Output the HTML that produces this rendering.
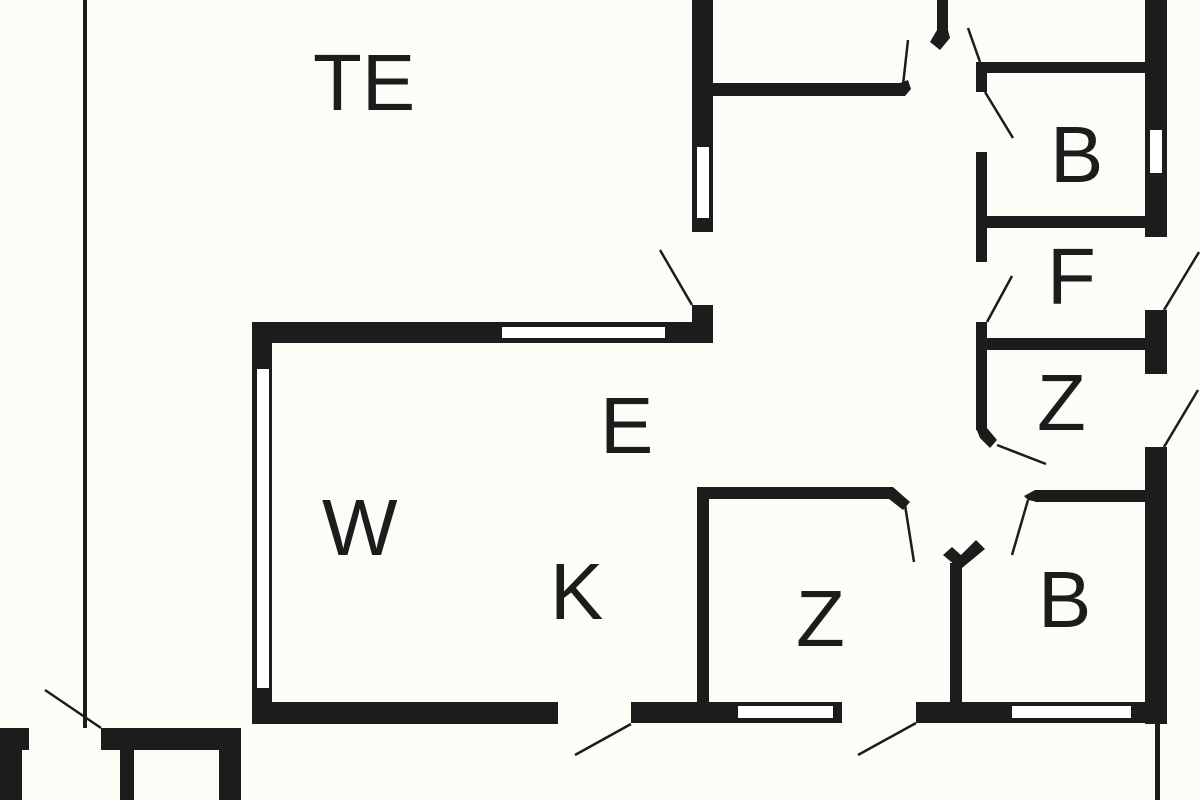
<!DOCTYPE html>
<html><head><meta charset="utf-8"><style>
html,body{margin:0;padding:0;background:#fcfdf7;}
svg{display:block;}
text{font-family:"Liberation Sans",sans-serif;font-size:80px;fill:#1c1c1c;}
</style></head><body>
<svg width="1200" height="800" viewBox="0 0 1200 800" xmlns="http://www.w3.org/2000/svg">
<rect width="1200" height="800" fill="#fcfdf7"/>
<g fill="#1c1c1c">
<!-- thin terrace line -->
<rect x="83" y="0" width="4" height="728"/>
<!-- TE right wall -->
<rect x="692" y="0" width="21" height="232"/>
<rect x="692" y="305" width="21" height="38"/>
<rect x="713" y="83" width="192" height="13"/>
<rect x="937" y="0" width="11" height="33"/>
<polygon points="937,30 948,30 950,38 940,50 930,42"/>
<polygon points="900,83 908,80 911,89 905,96 900,96"/>
<!-- right outer wall -->
<rect x="1145" y="0" width="22" height="237"/>
<rect x="1145" y="310" width="22" height="64"/>
<rect x="1145" y="447" width="22" height="277"/>
<!-- inner vertical -->
<rect x="976" y="62" width="11" height="30"/>
<rect x="976" y="152" width="11" height="110"/>
<rect x="976" y="322" width="11" height="108"/>
<polygon points="976,428 987,428 997,440 990,448 980,438"/>
<rect x="976" y="62" width="169" height="11"/>
<rect x="987" y="216" width="158" height="12"/>
<rect x="987" y="338" width="158" height="12"/>
<!-- B bottom top wall -->
<rect x="1035" y="490" width="110" height="12"/>
<polygon points="1035,490 1038,502 1028,500 1024,496"/>
<!-- Z room -->
<rect x="697" y="487" width="196" height="12"/>
<polygon points="893,487 910,502 903,510 889,499"/>
<rect x="697" y="487" width="12" height="220"/>
<rect x="950" y="563" width="12" height="142"/>
<polygon points="943,555 952,547 962,556 956,566"/>
<polygon points="956,560 976,540 985,549 962,568"/>
<!-- bottom wall -->
<rect x="631" y="702" width="211" height="21"/>
<rect x="916" y="702" width="251" height="21"/>
<rect x="1155" y="723" width="5" height="77"/>
<!-- W/K room -->
<rect x="252" y="322" width="461" height="21"/>
<rect x="252" y="322" width="20" height="402"/>
<rect x="252" y="702" width="306" height="22"/>
<!-- small building -->
<rect x="0" y="728" width="29" height="22"/>
<rect x="0" y="728" width="22" height="72"/>
<rect x="101" y="728" width="140" height="22"/>
<rect x="120" y="750" width="14" height="50"/>
<rect x="219" y="750" width="22" height="50"/>
</g>
<!-- windows -->
<g fill="#ffffff">
<rect x="697" y="147" width="12" height="71"/>
<rect x="1150" y="130" width="12" height="43"/>
<rect x="502" y="327" width="163" height="11"/>
<rect x="257" y="369" width="12" height="319"/>
<rect x="738" y="706" width="95" height="12"/>
<rect x="1012" y="706" width="119" height="12"/>
</g>
<!-- door swings -->
<g stroke="#1c1c1c" stroke-width="2.5" fill="none">
<line x1="660" y1="250" x2="692" y2="305"/>
<line x1="908" y1="40" x2="903" y2="85"/>
<line x1="968" y1="28" x2="980" y2="62"/>
<line x1="985" y1="92" x2="1013" y2="138"/>
<line x1="987" y1="322" x2="1012" y2="276"/>
<line x1="1164" y1="310" x2="1199" y2="252"/>
<line x1="1164" y1="447" x2="1198" y2="390"/>
<line x1="997" y1="445" x2="1046" y2="464"/>
<line x1="905" y1="505" x2="914" y2="562"/>
<line x1="1028" y1="500" x2="1012" y2="555"/>
<line x1="916" y1="723" x2="858" y2="755"/>
<line x1="631" y1="724" x2="575" y2="755"/>
<line x1="45" y1="690" x2="101" y2="728"/>
</g>
<text x="313" y="110">TE</text>
<text x="600" y="453">E</text>
<text x="322" y="555">W</text>
<text x="550" y="619">K</text>
<text x="796" y="646">Z</text>
<text x="1038" y="627">B</text>
<text x="1037" y="430">Z</text>
<text x="1047" y="304">F</text>
<text x="1050" y="182">B</text>
</svg>
</body></html>
